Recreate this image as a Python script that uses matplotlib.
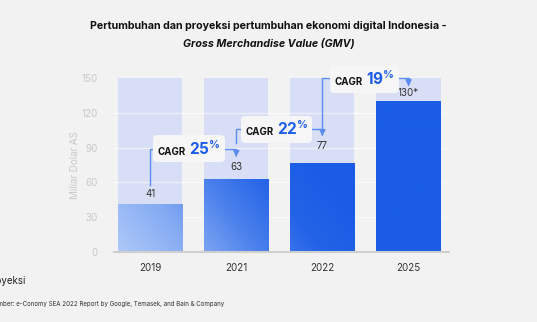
import numpy as np
import matplotlib.pyplot as plt
from matplotlib.colors import LinearSegmentedColormap
from matplotlib.offsetbox import TextArea, HPacker, AnnotationBbox

plt.rcParams['font.family'] = ['Inter', 'DejaVu Sans']
plt.rcParams['mathtext.fontset'] = 'custom'
plt.rcParams['mathtext.rm'] = 'Inter'
plt.rcParams['mathtext.bf'] = 'Inter:bold'

# data
years = ['2019', '2021', '2022', '2025']
gmv = [41, 63, 77, 130]
value_labels = ['41', '63', '77', '130*']
cagr = ['25', '22', '19']
y_max = 150
y_ticks = [0, 30, 60, 90, 120, 150]

BG = '#f2f2f2'
BLUE = '#1a5ce6'
LINE = '#5b8def'

fig = plt.figure(figsize=(5.37, 3.22), dpi=100, facecolor=BG)
ax = fig.add_axes([0.2123, 0.2174, 0.6238, 0.5404], facecolor=BG)

x = np.arange(len(years))
width = 0.745

# light background bars + faint grid
ax.bar(x, [y_max] * len(x), width=width, color='#d8def6', zorder=1)
for t in y_ticks[1:-1]:
    ax.axhline(t, color='white', lw=1, alpha=0.55, zorder=2)

bars = ax.bar(x, gmv, width=width, color='none', zorder=3)
ax.set_xlim(-0.42, 3.47)
ax.set_ylim(0, y_max)

# diagonal gradient clipped to each bar
cmap = LinearSegmentedColormap.from_list(
    'g', [(0, '#b0caf9'), (0.3, '#84aaf3'), (0.55, '#4a80ec'), (0.78, '#2363e7'), (1, BLUE)])
xx, yy = np.meshgrid(np.linspace(0, 1, 200), np.linspace(0, 1, 200))
grad = np.clip((xx + 0.4 * yy) / 0.8, 0, 1)
for b in bars:
    im = ax.imshow(grad, cmap=cmap, extent=[-0.42, 3.47, 0, y_max], origin='lower',
                   aspect='auto', zorder=3, vmin=0, vmax=1)
    im.set_clip_path(b)

label_pad = [9, 10, 14, 7]
for xi, v, lab, p in zip(x, gmv, value_labels, label_pad):
    ax.text(xi, v + p, lab, ha='center', va='center', fontsize=7, color='#333333', zorder=5)

# CAGR connectors
def connector(x0, y0, x1, ytop, yend, cx, cy, pct):
    ax.plot([x0, x0, x1, x1], [y0, ytop, ytop, yend + 3], color=LINE, lw=1,
            zorder=4, clip_on=False, solid_joinstyle='miter')
    ax.annotate('', xy=(x1, yend), xytext=(x1, yend + 3.5),
                arrowprops=dict(arrowstyle='-|>,head_length=0.35,head_width=0.18',
                                color=LINE, lw=1), zorder=4, annotation_clip=False)
    t1 = TextArea('CAGR', textprops=dict(fontsize=7, fontweight='bold', color='#111111'))
    t2 = TextArea(r'$\mathbf{%s^{\%%}}$' % pct, textprops=dict(fontsize=11, color=BLUE))
    pack = HPacker(children=[t1, t2], align='baseline', pad=0, sep=2.5)
    ab = AnnotationBbox(pack, (cx, cy), frameon=True, pad=0.4, zorder=6,
                        annotation_clip=False,
                        bboxprops=dict(boxstyle='round,pad=0.3,rounding_size=0.3',
                                       fc='#f6f6f6', ec='none'))
    ax.add_artist(ab)

connector(0, 58, 1, 89, 82, 0.45, 89, cagr[0])
connector(1, 94, 2, 106, 100, 1.47, 106, cagr[1])
connector(2, 104, 3, 150, 143, 2.49, 149, cagr[2])

# axes styling
ax.set_xticks(x)
ax.set_xticklabels(years, fontsize=7, color='#333333')
ax.set_yticks(y_ticks)
ax.set_yticklabels([str(t) for t in y_ticks], fontsize=7, color='#c8c8c8')
ax.tick_params(length=0)
ax.tick_params(axis='x', pad=8)
ax.tick_params(axis='y', pad=12)
for s in ['top', 'right', 'left']:
    ax.spines[s].set_visible(False)
ax.spines['bottom'].set_color('#cfcfcf')
ax.spines['bottom'].set_linewidth(1.5)
ax.spines['bottom'].set_zorder(7)
ax.set_ylabel('Miliar Dolar AS', fontsize=7, color='#c8c8c8', labelpad=1)

fig.text(0.5, 0.918, 'Pertumbuhan dan proyeksi pertumbuhan ekonomi digital Indonesia -',
         ha='center', va='center', fontsize=7.7, fontweight='bold', color='#111111')
fig.text(0.5, 0.865, 'Gross Merchandise Value (GMV)', ha='center', va='center',
         fontsize=7.7, fontweight='bold', fontstyle='italic', color='#111111')

# footnotes are cut at the left edge in the original as well
fig.text(25 / 537, 1 - 281 / 322, '* Proyeksi', ha='right', va='center', fontsize=7, color='#222222')
fig.text(224 / 537, 1 - 304 / 322,
         'Sumber: e-Conomy SEA 2022 Report by Google, Temasek, and Bain & Company',
         ha='right', va='center', fontsize=4.45, color='#333333')

fig.savefig('out.png', dpi=100, facecolor=BG)
